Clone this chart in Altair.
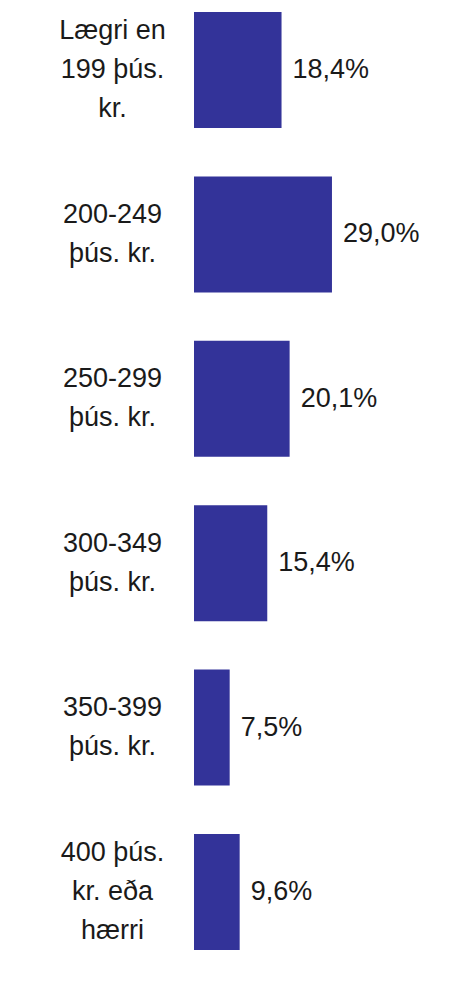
import altair as alt
import pandas as pd

categories = [
    "Lægri en|199 þús.|kr.",
    "200-249|þús. kr.",
    "250-299|þús. kr.",
    "300-349|þús. kr.",
    "350-399|þús. kr.",
    "400 þús.|kr. eða|hærri",
]
values = [18.4, 29.0, 20.1, 15.4, 7.5, 9.6]

df = pd.DataFrame({"cat": categories, "val": values})

FONT = "Liberation Sans"
LINE_H = 39

y_enc = alt.Y(
    "cat:N",
    sort=categories,
    title=None,
    scale=alt.Scale(paddingInner=0.2944, paddingOuter=0.0243),
    axis=alt.Axis(
        labelExpr="split(datum.label, '|')",
        labelAlign="center",
        labelBaseline="middle",
        labelPadding=82,
        labelLineHeight=LINE_H,
        labelFontSize=27,
        labelFont=FONT,
        labelColor="#1a1a1a",
        labelLimit=300,
        labelOffset={
            "condition": {
                "test": "length(split(datum.value, '|')) == 3",
                "value": -LINE_H,
            },
            "value": -LINE_H / 2,
        },
        ticks=False,
        domain=False,
        grid=False,
    ),
)

x_enc = alt.X(
    "val:Q",
    scale=alt.Scale(domain=[0, 53.6], nice=False, zero=True),
    axis=None,
)

base = alt.Chart(df).encode(y=y_enc, x=x_enc)

bars = base.mark_bar(color="#333399")

labels = base.transform_calculate(
    lbl="replace(format(datum.val, '.1f'), '.', ',') + '%'"
).mark_text(
    align="left",
    baseline="middle",
    dx=11,
    fontSize=27,
    font=FONT,
    color="#1a1a1a",
).encode(text="lbl:N")

chart = (
    alt.layer(bars, labels)
    .properties(
        width=255,
        height=946,
        autosize=alt.AutoSizeParams(type="none"),
        padding={"left": 186, "top": 0, "right": 0, "bottom": 0},
    )
    .configure_view(strokeWidth=0, stroke="transparent")
    .configure_axis(domain=False, grid=False, ticks=False)
    .configure(
        background="white",
        style={"cell": {"stroke": "transparent", "strokeWidth": 0}},
    )
)

chart.save("out.html", embed_options={"renderer": "svg", "actions": False})
